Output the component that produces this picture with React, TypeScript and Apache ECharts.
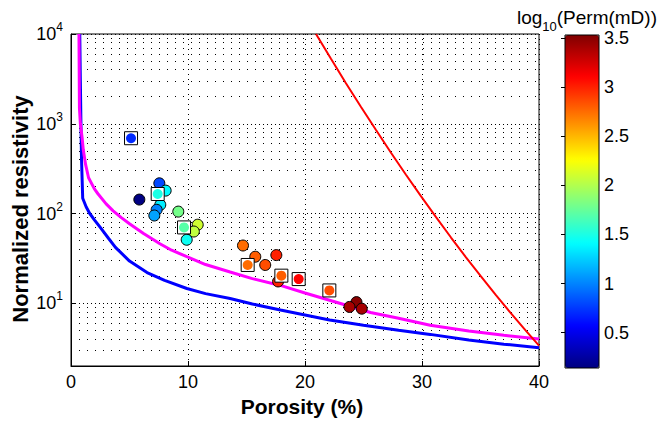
import React, { useEffect, useRef } from 'react';
import * as echarts from 'echarts';

// ---- data ----
// model curves: [porosity %, normalized resistivity]
const blueCurve: [number, number][] = [
  [0.75, 10000], [0.8, 3000], [0.85, 1000], [0.9, 400], [0.97, 200], [1.0, 148],
  [1.3, 118], [1.6, 100], [2.0, 85], [2.5, 70], [3.2, 53], [3.8, 42], [5.0, 29.5],
  [6.5, 22], [8.0, 18], [9.9, 14.6], [11.5, 12.8], [13.6, 11.3], [15.5, 9.8],
  [17.9, 8.4], [20, 7.4], [22.1, 6.5], [25, 5.7], [28, 5.0], [30.7, 4.5],
  [34, 3.9], [37, 3.5], [40, 3.2],
];
const magentaCurve: [number, number][] = [
  [0.68, 10000], [0.72, 1500], [0.8, 1000], [0.95, 700], [1.05, 513], [1.25, 350],
  [1.5, 250], [2.0, 188], [2.3, 166], [3.0, 128], [3.6, 107], [4.3, 90], [5.0, 77],
  [6.2, 60], [7.6, 46], [8.6, 39], [9.9, 33], [11.5, 27], [13.6, 22.3], [15.5, 18.8],
  [17.9, 15.8], [20, 13], [22.1, 10.8], [25.6, 7.9], [28, 6.8], [30.7, 5.7],
  [34, 4.9], [37, 4.4], [40, 4.0],
];
const redCurve: [number, number][] = [
  [20.94, 10000], [22.22, 5290], [23.5, 2830], [24.79, 1540], [26.07, 851],
  [27.35, 476], [28.63, 270], [29.91, 156], [31.2, 91], [32.48, 54], [33.76, 32.5],
  [35.04, 19.9], [36.32, 12.3], [37.61, 7.72], [38.89, 4.92], [40, 3.37],
];
// samples: [porosity %, normalized resistivity, log10 perm (mD)]
const circleSamples: [number, number, number][] = [
  [5.84, 143, 0.15], [7.55, 217, 0.8], [8.09, 180, 1.4], [7.63, 125, 1.35],
  [7.32, 110, 1.0], [7.12, 95, 1.1], [9.17, 105, 1.8], [10.83, 75, 2.1],
  [10.5, 63, 2.05], [9.89, 51, 1.45], [14.7, 44, 2.75], [15.75, 33, 2.8],
  [17.55, 34.4, 3.0], [16.6, 26.7, 2.85], [17.7, 17.5, 3.0], [24.4, 10.3, 3.5],
  [23.8, 9.1, 3.4], [24.85, 8.7, 3.4],
];
const squareSamples: [number, number, number][] = [
  [5.13, 690, 0.7], [7.41, 165, 1.5], [9.66, 70, 1.7], [15.1, 26.7, 2.75],
  [17.98, 20.3, 2.8], [19.46, 18.6, 3.1], [22.08, 13.9, 2.85],
];
const xTicks = [0, 10, 20, 30, 40];
const yMinorGrid = [
  2, 3, 4, 5, 6, 7, 8, 9,
  20, 30, 40, 50, 60, 70, 80, 90,
  200, 300, 400, 500, 600, 700, 800, 900,
  2000, 3000, 4000, 5000, 6000, 7000, 8000, 9000,
];
const colorbarTicks = [0.5, 1, 1.5, 2, 2.5, 3, 3.5];
const colorMin = 0.14;
const colorMax = 3.53;
const jet = ['#000080', '#0000FF', '#0080FF', '#00FFFF', '#80FF80', '#FFFF00', '#FF8000', '#FF0000', '#800000'];

const FONT = '"Liberation Sans", Arial, Helvetica, sans-serif';

function measure(text: string, size: number): number {
  const c = document.createElement('canvas').getContext('2d');
  if (!c) return text.length * size * 0.55;
  c.font = `${size}px ${FONT}`;
  return c.measureText(text).width;
}

export default function App() {
  const ref = useRef<HTMLDivElement>(null);
  useEffect(() => {
    document.body.style.margin = '0';
    if (!ref.current) return;
    const chart = echarts.init(ref.current, undefined, { renderer: 'svg' });

    // colorbar title pieces: log + subscript 10 + (Perm(mD))
    const tA = 'log', tB = '10', tC = '(Perm(mD))';
    const fA = 19, fB = 13;
    const wA = measure(tA, fA), wB = measure(tB, fB), wC = measure(tC, fA);
    const titleRight = 657;
    const x0 = titleRight - (wA + wB + wC);
    const titleStyle = { fill: '#000', fontFamily: FONT, verticalAlign: 'middle', align: 'left' };

    const option: any = {
      animation: false,
      backgroundColor: '#fff',
      textStyle: { fontFamily: FONT },
      grid: [
        { left: 71, top: 34, width: 468, height: 332, show: true, borderColor: '#000', borderWidth: 1, containLabel: false, outerBoundsMode: 'none' },
        { left: 565, top: 35, width: 34, height: 333, show: false, containLabel: false, outerBoundsMode: 'none' },
      ],
      xAxis: [
        {
          type: 'value', gridIndex: 0, min: xTicks[0], max: xTicks[xTicks.length - 1], interval: 10,
          axisLine: { show: true, onZero: false, lineStyle: { color: '#000', width: 1 } },
          axisTick: { show: true, inside: true, length: 5, lineStyle: { color: '#000' } },
          axisLabel: { fontSize: 18, color: '#000', margin: 7, fontFamily: FONT },
          splitLine: { show: true, lineStyle: { color: '#000', type: [1, 4], width: 1 } },
        },
        { type: 'value', gridIndex: 1, min: 0, max: 1, show: false },
      ],
      yAxis: [
        {
          type: 'log', logBase: 10, gridIndex: 0, min: 2, max: 10000,
          axisLine: { show: true, onZero: false, lineStyle: { color: '#000', width: 1 } },
          axisTick: { show: true, inside: true, length: 5, lineStyle: { color: '#000' } },
          axisLabel: {
            color: '#000', margin: 8, fontFamily: FONT,
            formatter: (v: number) => {
              const e = Math.log10(v);
              if (Math.abs(e - Math.round(e)) > 1e-6) return '';
              return '{b|10}{s|' + Math.round(e) + '}';
            },
            rich: {
              b: { fontSize: 18, lineHeight: 26, color: '#000', fontFamily: FONT },
              s: { fontSize: 12, lineHeight: 12, verticalAlign: 'top', color: '#000', fontFamily: FONT },
            },
          },
          splitLine: { show: true, lineStyle: { color: '#000', type: [1, 3], width: 1 } },
        },
        {
          type: 'value', gridIndex: 1, min: colorMin, max: colorMax, position: 'right',
          axisLine: { show: false },
          axisTick: { show: true, inside: true, length: 4, customValues: colorbarTicks, lineStyle: { color: '#000' } },
          axisLabel: { customValues: colorbarTicks, fontSize: 18, color: '#000', margin: 5, fontFamily: FONT, formatter: (v: number) => String(v) },
          splitLine: { show: false },
        },
      ],
      visualMap: {
        type: 'continuous', min: colorMin, max: colorMax, dimension: 2, seriesIndex: [3, 5],
        inRange: { color: jet }, left: 565, top: 35, itemWidth: 34, itemHeight: 333,
        padding: 0, calculable: false, text: null, hoverLink: false, show: true,
      },
      series: [
        {
          type: 'line', xAxisIndex: 0, yAxisIndex: 0, data: blueCurve, symbol: 'none', smooth: false,
          lineStyle: { color: '#0000FF', width: 3 }, z: 3, silent: true,
          markLine: {
            silent: true, symbol: ['none', 'none'], label: { show: false }, animation: false,
            lineStyle: { color: '#000', type: [1, 7], width: 1 },
            data: yMinorGrid.map((v) => ({ yAxis: v })),
            z: 1,
          },
        },
        { type: 'line', data: magentaCurve, symbol: 'none', smooth: false, lineStyle: { color: '#FF00FF', width: 3 }, z: 4, silent: true },
        { type: 'line', data: redCurve, symbol: 'none', smooth: false, lineStyle: { color: '#FF0000', width: 2 }, z: 5, silent: true },
        {
          type: 'scatter', data: circleSamples, symbol: 'circle', symbolSize: 11,
          itemStyle: { borderColor: '#000', borderWidth: 1, opacity: 1 }, z: 8,
        },
        {
          type: 'scatter', data: squareSamples, symbol: 'rect', symbolSize: 13,
          itemStyle: { color: '#fff', borderColor: '#000', borderWidth: 1, opacity: 1 }, z: 9,
        },
        {
          type: 'scatter', data: squareSamples, symbol: 'circle', symbolSize: 10,
          itemStyle: { borderWidth: 0, opacity: 1 }, z: 10,
        },
      ],
      graphic: [
        { type: 'rect', shape: { x: 565, y: 35, width: 34, height: 333 }, style: { fill: 'none', stroke: '#000', lineWidth: 1 }, z: 100 },
        { type: 'text', x: x0, y: 17, z: 100, style: { ...titleStyle, text: tA, fontSize: fA } },
        { type: 'text', x: x0 + wA, y: 26, z: 100, style: { ...titleStyle, text: tB, fontSize: fB } },
        { type: 'text', x: x0 + wA + wB, y: 17, z: 100, style: { ...titleStyle, text: tC, fontSize: fA } },
        {
          type: 'text', x: 302, y: 406, z: 100,
          style: { text: 'Porosity (%)', fontSize: 21, fontWeight: 'bold', fill: '#000', fontFamily: FONT, align: 'center', verticalAlign: 'middle' },
        },
        {
          type: 'text', x: 20, y: 209, rotation: Math.PI / 2, z: 100,
          style: { text: 'Normalized resistivity', fontSize: 22, fontWeight: 'bold', fill: '#000', fontFamily: FONT, align: 'center', verticalAlign: 'middle' },
        },
      ],
    };
    chart.setOption(option);
    return () => chart.dispose();
  }, []);
  return <div ref={ref} style={{ width: 662, height: 424 }} />;
}
